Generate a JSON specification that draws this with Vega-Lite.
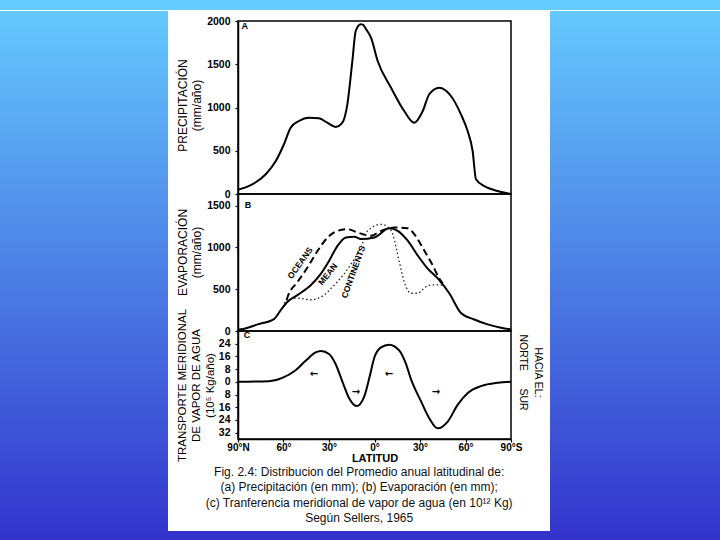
{
  "$schema": "https://vega.github.io/schema/vega-lite/v6.json",
  "padding": 0,
  "background": "white",
  "spacing": 0,
  "config": {
    "view": {"stroke": "#000", "strokeWidth": 1.5},
    "font": "Liberation Sans",
    "axis": {"grid": false, "domainColor": "#000", "tickColor": "#000", "labelColor": "#000", "titleColor": "#000", "domainWidth": 1.5, "tickWidth": 1.2, "labelFont": "Liberation Sans", "titleFont": "Liberation Sans"},
    "axisY": {"labelFontSize": 10.5, "labelFontWeight": "bold", "labelPadding": 5, "tickSize": 3, "titleFontSize": 12, "titleFontWeight": "normal", "titleLineHeight": 14, "titlePadding": 3, "format": "d"}
  },
  "vconcat": [
    {
      "width": 720, "height": 10,
      "view": {"stroke": null},
      "data": {"values": [{"a": 0, "b": 1}]},
      "mark": {"type": "rect", "color": "#66cbfe"},
      "encoding": {
        "x": {"field": "a", "type": "quantitative", "scale": {"domain": [0, 1], "nice": false, "zero": false}, "axis": null},
        "x2": {"field": "b"},
        "y": {"field": "a", "type": "quantitative", "scale": {"domain": [0, 1], "nice": false, "zero": false}, "axis": null},
        "y2": {"field": "b"}
      }
    },
    {
      "columns": 3,
      "align": "none",
      "spacing": 7,
      "concat": [
        {
          "width": 168, "height": 510,
          "view": {"stroke": null},
          "data": {"values": [{"a": 0, "b": 1}]},
          "mark": {"type": "rect", "y2Offset": -10, "color": {"gradient": "linear", "x1": 0, "y1": 0, "x2": 0, "y2": 1, "stops": [{"offset": 0, "color": "#65c9fd"}, {"offset": 1, "color": "#3436cd"}]}},
          "encoding": {
            "x": {"field": "a", "type": "quantitative", "scale": {"domain": [0, 1], "nice": false, "zero": false}, "axis": null},
            "x2": {"field": "b"},
            "y": {"field": "a", "type": "quantitative", "scale": {"domain": [0, 1], "nice": false, "zero": false}, "axis": null},
            "y2": {"field": "b"}
          }
        },
        {
          "spacing": 0,
          "bounds": "flush",
          "title": {
            "text": ["Fig. 2.4: Distribucion del Promedio anual latitudinal de:", "(a) Precipitación (en mm); (b) Evaporación (en mm);", "(c) Tranferencia meridional de vapor de agua (en 10¹² Kg)", "Según Sellers, 1965"],
            "orient": "bottom", "anchor": "middle", "fontSize": 12, "fontWeight": "normal", "font": "Liberation Sans", "lineHeight": 15.5, "offset": 3, "color": "#111"
          },
          "vconcat": [
            {
              "width": 273, "height": 173,
              "title": {"text": " ", "fontSize": 5, "offset": 0},
              "layer": [
                {
                  "data": {"values": [
                    {"lat": 90, "p": 50}, {"lat": 80.6, "p": 112}, {"lat": 71.7, "p": 228}, {"lat": 65.1, "p": 381},
                    {"lat": 59.7, "p": 575}, {"lat": 55.3, "p": 766}, {"lat": 49.8, "p": 844}, {"lat": 43.2, "p": 882},
                    {"lat": 36.6, "p": 875}, {"lat": 31.1, "p": 824}, {"lat": 25.6, "p": 775}, {"lat": 21.2, "p": 824},
                    {"lat": 17.9, "p": 1037}, {"lat": 14.6, "p": 1537}, {"lat": 12.4, "p": 1884}, {"lat": 9.1, "p": 1962},
                    {"lat": 7.8, "p": 1958}, {"lat": 5, "p": 1890}, {"lat": 2.3, "p": 1807}, {"lat": -2.1, "p": 1537},
                    {"lat": -10.9, "p": 1229}, {"lat": -19.6, "p": 959}, {"lat": -26.2, "p": 824}, {"lat": -31.8, "p": 959},
                    {"lat": -36.1, "p": 1153}, {"lat": -42.7, "p": 1229}, {"lat": -50.4, "p": 1133}, {"lat": -57, "p": 921},
                    {"lat": -61.4, "p": 728}, {"lat": -64.7, "p": 497}, {"lat": -66.9, "p": 170}, {"lat": -72.4, "p": 92},
                    {"lat": -81.2, "p": 35}, {"lat": -90, "p": 0}
                  ]},
                  "mark": {"type": "line", "color": "#000", "strokeWidth": 2, "interpolate": "monotone"},
                  "encoding": {
                    "x": {"field": "lat", "type": "quantitative", "scale": {"domain": [-90, 90], "reverse": true, "nice": false, "zero": false}, "axis": null},
                    "y": {"field": "p", "type": "quantitative", "scale": {"domain": [0, 2000], "nice": false}, "axis": {"values": [0, 500, 1000, 1500, 2000], "title": ["PRECIPITACIÓN", "(mm/año)"], "titleY": 84}}
                  }
                },
                {
                  "data": {"values": [{"lat": 85.5, "p": 1940, "t": "A"}]},
                  "mark": {"type": "text", "fontWeight": "bold", "fontSize": 9, "color": "#000"},
                  "encoding": {
                    "x": {"field": "lat", "type": "quantitative"},
                    "y": {"field": "p", "type": "quantitative"},
                    "text": {"field": "t"}
                  }
                }
              ]
            },
            {
              "width": 273, "height": 137,
              "data": {"values": [
                {"s": "Mean", "lat": 90, "v": 15}, {"s": "Mean", "lat": 88, "v": 20}, {"s": "Mean", "lat": 77, "v": 79}, {"s": "Mean", "lat": 66.1, "v": 145},
                {"s": "Mean", "lat": 61.6, "v": 256}, {"s": "Mean", "lat": 57.2, "v": 354}, {"s": "Mean", "lat": 50.6, "v": 433}, {"s": "Mean", "lat": 41.9, "v": 551},
                {"s": "Mean", "lat": 35.3, "v": 687}, {"s": "Mean", "lat": 29.8, "v": 845}, {"s": "Mean", "lat": 24.3, "v": 1022}, {"s": "Mean", "lat": 18.8, "v": 1120},
                {"s": "Mean", "lat": 13.3, "v": 1128}, {"s": "Mean", "lat": 8.9, "v": 1100}, {"s": "Mean", "lat": 0.1, "v": 1120}, {"s": "Mean", "lat": -9.8, "v": 1230},
                {"s": "Mean", "lat": -15.3, "v": 1199}, {"s": "Mean", "lat": -21.9, "v": 1081}, {"s": "Mean", "lat": -28.5, "v": 904}, {"s": "Mean", "lat": -35.1, "v": 746},
                {"s": "Mean", "lat": -42.7, "v": 610}, {"s": "Mean", "lat": -49.3, "v": 452}, {"s": "Mean", "lat": -57, "v": 216}, {"s": "Mean", "lat": -65.8, "v": 138},
                {"s": "Mean", "lat": -74.6, "v": 79}, {"s": "Mean", "lat": -83.4, "v": 39}, {"s": "Mean", "lat": -90, "v": 20},
                {"s": "Oceans", "lat": 58, "v": 370}, {"s": "Oceans", "lat": 57.2, "v": 413}, {"s": "Oceans", "lat": 50.6, "v": 590}, {"s": "Oceans", "lat": 44, "v": 766},
                {"s": "Oceans", "lat": 37.4, "v": 963}, {"s": "Oceans", "lat": 30.9, "v": 1120}, {"s": "Oceans", "lat": 24.3, "v": 1199}, {"s": "Oceans", "lat": 17.7, "v": 1218},
                {"s": "Oceans", "lat": 11.1, "v": 1179}, {"s": "Oceans", "lat": 2.3, "v": 1140}, {"s": "Oceans", "lat": -4.3, "v": 1199}, {"s": "Oceans", "lat": -13.1, "v": 1238},
                {"s": "Oceans", "lat": -21.9, "v": 1230}, {"s": "Oceans", "lat": -26.2, "v": 1159}, {"s": "Oceans", "lat": -32.8, "v": 963}, {"s": "Oceans", "lat": -38.4, "v": 786},
                {"s": "Oceans", "lat": -42.7, "v": 628}, {"s": "Oceans", "lat": -45, "v": 570},
                {"s": "Continents", "lat": 59.7, "v": 330}, {"s": "Continents", "lat": 56, "v": 385}, {"s": "Continents", "lat": 50.6, "v": 393}, {"s": "Continents", "lat": 41.9, "v": 374},
                {"s": "Continents", "lat": 33.1, "v": 433}, {"s": "Continents", "lat": 26.5, "v": 551}, {"s": "Continents", "lat": 19.9, "v": 687}, {"s": "Continents", "lat": 13.3, "v": 864},
                {"s": "Continents", "lat": 8.9, "v": 1002}, {"s": "Continents", "lat": 4.5, "v": 1199}, {"s": "Continents", "lat": -4.3, "v": 1277}, {"s": "Continents", "lat": -8.7, "v": 1246},
                {"s": "Continents", "lat": -12, "v": 1159}, {"s": "Continents", "lat": -14.2, "v": 1002}, {"s": "Continents", "lat": -16.4, "v": 825}, {"s": "Continents", "lat": -19.6, "v": 590},
                {"s": "Continents", "lat": -24.1, "v": 452}, {"s": "Continents", "lat": -28.5, "v": 452}, {"s": "Continents", "lat": -34, "v": 531}, {"s": "Continents", "lat": -38.4, "v": 551},
                {"s": "Continents", "lat": -41.7, "v": 551}, {"s": "Continents", "lat": -45, "v": 550}
              ]},
              "layer": [
                {
                  "transform": [{"filter": "datum.s == 'Mean'"}],
                  "mark": {"type": "line", "color": "#000", "strokeWidth": 2, "interpolate": "monotone"},
                  "encoding": {
                    "x": {"field": "lat", "type": "quantitative", "scale": {"domain": [-90, 90], "reverse": true, "nice": false, "zero": false}, "axis": null},
                    "y": {"field": "v", "type": "quantitative", "scale": {"domain": [0, 1640], "nice": false}, "axis": {"values": [0, 500, 1000, 1500], "title": ["EVAPORACIÓN", "(mm/año)"], "titleY": 58}}
                  }
                },
                {
                  "transform": [{"filter": "datum.s == 'Oceans'"}],
                  "mark": {"type": "line", "color": "#000", "strokeWidth": 2, "strokeDash": [7, 4], "interpolate": "monotone"},
                  "encoding": {
                    "x": {"field": "lat", "type": "quantitative"},
                    "y": {"field": "v", "type": "quantitative"}
                  }
                },
                {
                  "transform": [{"filter": "datum.s == 'Continents'"}],
                  "mark": {"type": "line", "color": "#222", "strokeWidth": 1.3, "strokeDash": [1.5, 2.5], "interpolate": "monotone"},
                  "encoding": {
                    "x": {"field": "lat", "type": "quantitative"},
                    "y": {"field": "v", "type": "quantitative"}
                  }
                },
                {
                  "data": {"values": [{"lat": 83.4, "v": 1512, "t": "B"}]},
                  "mark": {"type": "text", "fontWeight": "bold", "fontSize": 9, "color": "#000"},
                  "encoding": {"x": {"field": "lat", "type": "quantitative"}, "y": {"field": "v", "type": "quantitative"}, "text": {"field": "t"}}
                },
                {
                  "data": {"values": [{"lat": 49.1, "v": 815, "t": "OCEANS"}]},
                  "mark": {"type": "text", "fontWeight": "bold", "fontSize": 8.5, "angle": -54, "color": "#000"},
                  "encoding": {"x": {"field": "lat", "type": "quantitative"}, "y": {"field": "v", "type": "quantitative"}, "text": {"field": "t"}}
                },
                {
                  "data": {"values": [{"lat": 30.9, "v": 681, "t": "MEAN"}]},
                  "mark": {"type": "text", "fontWeight": "bold", "fontSize": 8.5, "angle": -52, "color": "#000"},
                  "encoding": {"x": {"field": "lat", "type": "quantitative"}, "y": {"field": "v", "type": "quantitative"}, "text": {"field": "t"}}
                },
                {
                  "data": {"values": [{"lat": 14, "v": 709, "t": "CONTINENTS"}]},
                  "mark": {"type": "text", "fontWeight": "bold", "fontSize": 8.5, "angle": -70, "color": "#000"},
                  "encoding": {"x": {"field": "lat", "type": "quantitative"}, "y": {"field": "v", "type": "quantitative"}, "text": {"field": "t"}}
                }
              ]
            },
            {
              "width": 273, "height": 108,
              "resolve": {"axis": {"y": "independent"}},
              "layer": [
                {
                  "data": {"values": [
                    {"lat": 90, "q": 0}, {"lat": 69.6, "q": 0.4}, {"lat": 60.8, "q": 2.5}, {"lat": 52, "q": 7.3},
                    {"lat": 45.4, "q": 13.2}, {"lat": 38.8, "q": 18.5}, {"lat": 35.3, "q": 19.4}, {"lat": 30, "q": 17.5},
                    {"lat": 25.6, "q": 11.1}, {"lat": 21.1, "q": 0}, {"lat": 16.8, "q": -10.2}, {"lat": 11.9, "q": -15.3},
                    {"lat": 6.7, "q": -9.1}, {"lat": 3.4, "q": 2.5}, {"lat": 0.1, "q": 15.3}, {"lat": -4.3, "q": 21.7},
                    {"lat": -9.6, "q": 23.4}, {"lat": -16.4, "q": 19.6}, {"lat": -20.8, "q": 11.1}, {"lat": -24.1, "q": 1.5},
                    {"lat": -30.7, "q": -12.3}, {"lat": -36.1, "q": -22.9}, {"lat": -41.7, "q": -29.3}, {"lat": -48.3, "q": -25},
                    {"lat": -54.9, "q": -14.4}, {"lat": -61.5, "q": -7}, {"lat": -70.2, "q": -2.7}, {"lat": -81.2, "q": -0.6},
                    {"lat": -90, "q": 0}
                  ]},
                  "mark": {"type": "line", "color": "#000", "strokeWidth": 2, "interpolate": "monotone"},
                  "encoding": {
                    "x": {"field": "lat", "type": "quantitative", "scale": {"domain": [-90, 90], "reverse": true, "nice": false, "zero": false},
                      "axis": {"values": [90, 60, 30, 0, -30, -60, -90], "labelExpr": "datum.value == 90 ? '90°N' : datum.value == -90 ? '90°S' : abs(datum.value) + '°'", "labelFlush": false, "labelFontSize": 10, "labelFontWeight": "bold", "labelPadding": 0, "tickSize": 3, "title": "LATITUD", "titleFontSize": 11, "titleFontWeight": "bold", "titlePadding": 0}},
                    "y": {"field": "q", "type": "quantitative", "scale": {"domain": [-36, 32], "nice": false, "zero": false},
                      "axis": {"values": [24, 16, 8, 0, -8, -16, -24, -32], "labelExpr": "'' + abs(datum.value)", "title": ["TRANSPORTE MERIDIONAL", "DE VAPOR DE AGUA", "(10⁵ Kg/año)"], "titleFontSize": 11.5}}
                  }
                },
                {
                  "mark": {"type": "rule", "color": "#000", "strokeWidth": 2},
                  "encoding": {"y": {"datum": 0, "type": "quantitative", "axis": null}}
                },
                {
                  "data": {"values": [{"lat": 39.9, "q": 4.9, "t": "←"}, {"lat": -9.6, "q": 4.9, "t": "←"}, {"lat": 12.2, "q": -6.4, "t": "→"}, {"lat": -40.5, "q": -6.4, "t": "→"}]},
                  "mark": {"type": "text", "font": "DejaVu Sans", "fontSize": 10, "fontWeight": "bold", "color": "#000"},
                  "encoding": {
                    "x": {"field": "lat", "type": "quantitative"},
                    "y": {"field": "q", "type": "quantitative",
                      "axis": {"orient": "right", "labels": false, "ticks": false, "domain": false, "title": ["HACIA EL:", "NORTE\u00a0\u00a0\u00a0\u00a0\u00a0\u00a0SUR"], "titleAngle": 90, "titleFontSize": 10.5, "titleLineHeight": 15, "titlePadding": 6, "titleY": 41}},
                    "text": {"field": "t"}
                  }
                },
                {
                  "data": {"values": [{"lat": 84, "q": 29.5, "t": "C"}]},
                  "mark": {"type": "text", "fontWeight": "bold", "fontSize": 9, "color": "#000"},
                  "encoding": {"x": {"field": "lat", "type": "quantitative"}, "y": {"field": "q", "type": "quantitative", "axis": null}, "text": {"field": "t"}}
                }
              ]
            }
          ]
        },
        {
          "width": 170, "height": 510,
          "view": {"stroke": null},
          "data": {"values": [{"a": 0, "b": 1}]},
          "mark": {"type": "rect", "y2Offset": -10, "color": {"gradient": "linear", "x1": 0, "y1": 0, "x2": 0, "y2": 1, "stops": [{"offset": 0, "color": "#65c9fd"}, {"offset": 1, "color": "#3436cd"}]}},
          "encoding": {
            "x": {"field": "a", "type": "quantitative", "scale": {"domain": [0, 1], "nice": false, "zero": false}, "axis": null},
            "x2": {"field": "b"},
            "y": {"field": "a", "type": "quantitative", "scale": {"domain": [0, 1], "nice": false, "zero": false}, "axis": null},
            "y2": {"field": "b"}
          }
        }
      ]
    },
    {
      "width": 720, "height": 10,
      "view": {"stroke": null},
      "data": {"values": [{"a": 0, "b": 1}]},
      "mark": {"type": "rect", "color": "#3333cc"},
      "encoding": {
        "x": {"field": "a", "type": "quantitative", "scale": {"domain": [0, 1], "nice": false, "zero": false}, "axis": null},
        "x2": {"field": "b"},
        "y": {"field": "a", "type": "quantitative", "scale": {"domain": [0, 1], "nice": false, "zero": false}, "axis": null},
        "y2": {"field": "b"}
      }
    }
  ]
}
